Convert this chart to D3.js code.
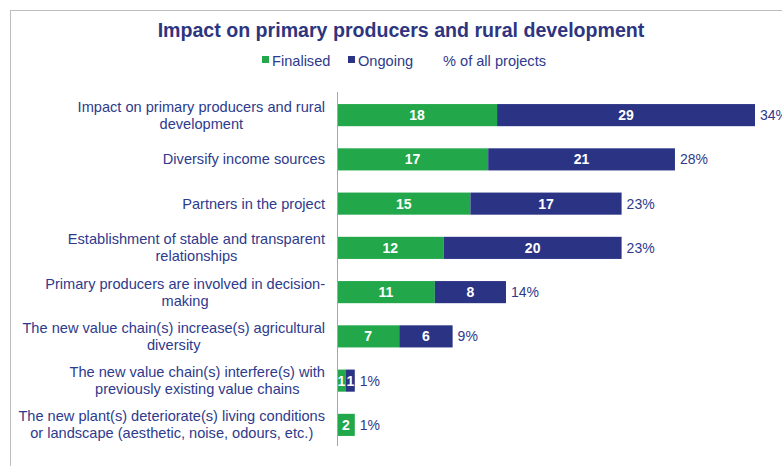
<!DOCTYPE html>
<html>
<head>
<meta charset="utf-8">
<script src="https://cdn.jsdelivr.net/npm/d3@7/dist/d3.min.js"></script>
<style>
  body { margin: 0; background: #fff; }
  svg { display: block; font-family: "Liberation Sans", Arial, sans-serif; }
</style>
</head>
<body>
<svg id="chart" width="782" height="466"></svg>
<script>
// Chart data
const categories = [
  ["Impact on primary producers and rural", "development"],
  ["Diversify income sources"],
  ["Partners in the project"],
  ["Establishment of stable and transparent", "relationships"],
  ["Primary producers are involved in decision-", "making"],
  ["The new value chain(s) increase(s) agricultural", "diversity"],
  ["The new value chain(s) interfere(s) with", "previously existing value chains"],
  ["The new plant(s) deteriorate(s) living conditions", "or landscape (aesthetic, noise, odours, etc.)"]
];
const finalised = [18, 17, 15, 12, 11, 7, 1, 2];
const ongoing   = [29, 21, 17, 20, 8, 6, 1, 0];
const shareLabels = ["34%", "28%", "23%", "23%", "14%", "9%", "1%", "1%"];
const seriesNames = ["Finalised", "Ongoing"];

const GREEN = "#22a84a";
const NAVY = "#2a3384";
const TEXT = "#2e3a8c";

const svg = d3.select("#chart");

// Frame lines
svg.append("line").attr("x1", 10).attr("x2", 782).attr("y1", 10.5).attr("y2", 10.5)
  .attr("stroke", "#bdbdbd").attr("stroke-width", 1);
svg.append("line").attr("x1", 10.5).attr("x2", 10.5).attr("y1", 10).attr("y2", 466)
  .attr("stroke", "#bdbdbd").attr("stroke-width", 1);

// Title
svg.append("text").attr("x", 401).attr("y", 37).attr("text-anchor", "middle")
  .attr("font-size", 19.6).attr("font-weight", "bold").attr("fill", "#2e3580")
  .text("Impact on primary producers and rural development");

// Legend
const legend = svg.append("g").attr("font-size", 14.6).attr("fill", TEXT);
const legendItems = [
  { name: seriesNames[0], color: GREEN, x: 262 },
  { name: seriesNames[1], color: NAVY, x: 348 }
];
legendItems.forEach(d => {
  legend.append("rect").attr("x", d.x).attr("y", 56).attr("width", 7).attr("height", 7).attr("fill", d.color);
  legend.append("text").attr("x", d.x + 10).attr("y", 66).text(d.name);
});
legend.append("text").attr("x", 443).attr("y", 66).text("% of all projects");

// Scales
const x = d3.scaleLinear().domain([0, 47]).range([337, 755]);
const y = d3.scaleBand().domain(d3.range(categories.length)).range([93, 447]).paddingInner(0.5).paddingOuter(0.25);

// Category labels: first line right-aligned, second line centred under it
const labelG = svg.append("g").attr("font-size", 14.6).attr("fill", TEXT);
categories.forEach((lines, i) => {
  const cy = y(i) + y.bandwidth() / 2;
  const lh = 17;
  const top = cy - (lines.length - 1) * lh / 2 + 5;
  const first = labelG.append("text").attr("x", 325).attr("y", top).attr("text-anchor", "end").text(lines[0]);
  if (lines.length > 1) {
    const w = first.node().getComputedTextLength();
    labelG.append("text").attr("x", 325 - w / 2).attr("y", top + lh).attr("text-anchor", "middle").text(lines[1]);
  }
});

// Stacked bars
const stackData = finalised.map((f, i) => ({ i, Finalised: f, Ongoing: ongoing[i] }));
const stacked = d3.stack().keys(seriesNames)(stackData);
const colors = { Finalised: GREEN, Ongoing: NAVY };

const barG = svg.append("g");
stacked.forEach(layer => {
  const g = barG.append("g");
  layer.forEach(seg => {
    const v = seg[1] - seg[0];
    if (v <= 0) return;
    g.append("rect")
      .attr("x", x(seg[0])).attr("y", y(seg.data.i))
      .attr("width", x(seg[1]) - x(seg[0])).attr("height", y.bandwidth())
      .attr("fill", colors[layer.key]);
    g.append("text")
      .attr("x", (x(seg[0]) + x(seg[1])) / 2).attr("y", y(seg.data.i) + y.bandwidth() / 2 + 5)
      .attr("text-anchor", "middle").attr("font-size", 14).attr("font-weight", "bold")
      .attr("fill", "#fff").text(v);
  });
});

// Share labels at the end of each bar
stackData.forEach((d, i) => {
  svg.append("text")
    .attr("x", x(d.Finalised + d.Ongoing) + 5)
    .attr("y", y(i) + y.bandwidth() / 2 + 5)
    .attr("font-size", 14).attr("fill", TEXT).text(shareLabels[i]);
});

// Category axis line
svg.append("line").attr("x1", 337.5).attr("x2", 337.5).attr("y1", 92).attr("y2", 446)
  .attr("stroke", "#a6a6a6").attr("stroke-width", 1);
</script>
</body>
</html>
